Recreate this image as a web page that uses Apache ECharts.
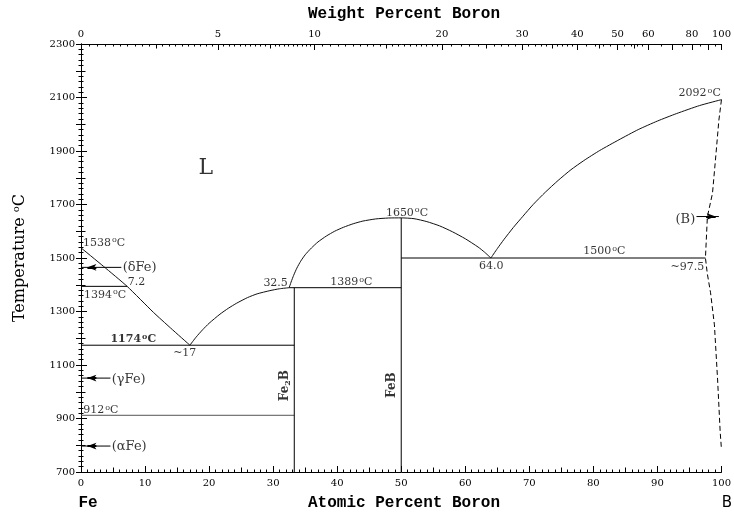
<!DOCTYPE html>
<html><head><meta charset="utf-8">
<script src="https://cdn.jsdelivr.net/npm/echarts@6/dist/echarts.min.js"></script>
<style>html,body{margin:0;padding:0;background:#fff}#c{width:734px;height:515px}</style>
</head><body><div id="c"></div>
<script>
// ---------- data ----------
const atomicTicks = [0,10,20,30,40,50,60,70,80,90,100];
const atomicMid = [5,15,25,35,45,55,65,75,85,95];
const weightMajor = [0,5,10,20,30,40,50,60,70,80,90,100];
const weightLabeled = [0,5,10,20,30,40,50,60,80,100];
const weightMid = [2.5,7.5,15,25,35,45,55];
const tempTicks = [700,900,1100,1300,1500,1700,1900,2100,2300];
const tempMid = [800,1000,1200,1400,1600,1800,2000,2200];

const liquidusFe   = [[0,1538],[3.5,1469],[7.2,1394],[11.3,1297],[14,1238],[17,1174]];
const liquidusFe2B = [[17,1174],[18,1205],[19,1232],[20,1256],[21.7,1290],[23,1312],[24.3,1331],[26,1352],[27.5,1366],[29.5,1378],[31,1385],[32.5,1389]];
const liquidusFeB  = [[32.5,1389],[32.8,1410],[33.2,1435],[33.7,1462],[34.3,1488],[35,1512],[36,1538],[37,1560],[38.3,1582],[39.6,1600],[41,1615],[42.5,1628],[44,1638],[46,1646],[48,1649.5],[50,1650],[52,1647],[54,1636],[56,1620],[58,1598],[60,1572],[62,1541],[63,1522],[64,1500]];
const liquidusB    = [[64,1500],[65,1535],[66,1568],[67.5,1614],[69,1656],[70.6,1700],[72.5,1746],[74.5,1790],[76.5,1830],[78.5,1864],[81,1902],[84,1942],[87,1980],[90,2012],[93,2040],[96.6,2070],[100,2092]];
const solvusB      = [[100,2092],[99.6,2016],[99.06,1866],[98.6,1742],[97.8,1654],[97.5,1500],[97.8,1440],[98.3,1370],[98.9,1250],[99.4,1044],[99.8,850],[100,785]];
const isotherms = [
  {from:0, to:7.2, t:1394, color:'#000'},
  {from:0, to:33.3, t:1174, color:'#000'},
  {from:0, to:33.3, t:912, color:'#555'},
  {from:32.5, to:50, t:1389, color:'#000'},
  {from:50, to:97.5, t:1500, color:'#000'}
];
const compounds = [
  {x:33.3, from:700, to:1389},
  {x:50, from:700, to:1650}
];
const arrows = [ // phase arrows pointing to the pure element axis
  {t:1465, x0:0, x1:6.3, tail:2.4, head:1.0},
  {t:1051, x0:0, x1:4.6, tail:2.4, head:1.0},
  {t:797,  x0:0, x1:4.6, tail:2.4, head:1.0},
  {t:1655, x0:96.1, x1:99.6, tail:97.6, head:99.1}
];
const annotations = [
  {x:0.3,  y:1557, text:'1538{o|o}C', align:'left'},
  {x:6.5,  y:1464, text:'(\u03B4Fe)', align:'left', big:true},
  {x:7.3,  y:1408, text:'7.2', align:'left'},
  {x:0.45, y:1362, text:'1394{o|o}C', align:'left'},
  {x:4.6,  y:1196, text:'{b|1174}{ob|o}{b|C}', align:'left'},
  {x:16.2, y:1146, text:'~17', align:'center'},
  {x:4.8,  y:1047, text:'(\u03B3Fe)', align:'left', big:true},
  {x:0.35, y:932,  text:'912{o|o}C', align:'left'},
  {x:4.8,  y:795,  text:'(\u03B1Fe)', align:'left', big:true},
  {x:32.3, y:1405, text:'32.5', align:'right'},
  {x:42.2, y:1408, text:'1389{o|o}C', align:'center'},
  {x:50.9, y:1669, text:'1650{o|o}C', align:'center'},
  {x:64.05,y:1470, text:'64.0', align:'center'},
  {x:81.7, y:1524, text:'1500{o|o}C', align:'center'},
  {x:97.3, y:1467, text:'~97.5', align:'right'},
  {x:95.9, y:1642, text:'(B)', align:'right', big:true},
  {x:99.9, y:2116, text:'2092{o|o}C', align:'right'},
  {x:19.5, y:1836, text:'L', align:'center', huge:true},
  {x:31.9, y:1023, text:'{bb|Fe}{sb|2}{bb|B}', align:'center', rot:true},
  {x:48.6, y:1025, text:'{bb|FeB}', align:'center', rot:true}
];

// ---------- helpers ----------
function range(a,b,s){const r=[];for(let v=a;v<=b+1e-9;v+=s)r.push(+v.toFixed(4));return r;}
const atFromWt = w => (w/10.81)/((w/10.81)+((100-w)/55.845))*100;
const wtFromAt = a => a*10.81/(a*10.81+(100-a)*55.845)*100;
const weightMinor = [].concat(range(0,10,0.25), range(10,20,0.5), range(20,40,1), range(40,60,2), range(60,100,5));

const SERIF = '"DejaVu Serif", serif';
const MONO = '"Liberation Mono", monospace';
const black = '#000';

function baseAxis(extra){
  return Object.assign({
    type:'value', min:0, max:100,
    axisLine:{show:false, lineStyle:{color:black, width:1}},
    splitLine:{show:false},
    axisLabel:{show:false},
    axisTick:{show:false},
    minorTick:{show:false}
  }, extra);
}
function ticks(values, len){
  return {show:true, inside:true, length:len, customValues:values, lineStyle:{color:black, width:1}};
}

const xAxis = [
  baseAxis({position:'bottom', interval:10,
    axisLine:{show:true, lineStyle:{color:black, width:1}},
    axisTick:{show:true, inside:true, length:6, lineStyle:{color:black}},
    minorTick:{show:true, splitNumber:10, length:2.5, lineStyle:{color:black}},
    axisLabel:{show:true, color:black, fontFamily:SERIF, fontSize:10, margin:6, formatter:v => String(v)}
  }),
  baseAxis({position:'bottom', axisTick:ticks(atomicMid, 4.5)}),
  baseAxis({position:'top',
    axisLine:{show:true, lineStyle:{color:black, width:1}},
    axisTick:ticks(weightMajor.map(atFromWt), 6),
    axisLabel:{show:true, customValues:weightLabeled.map(atFromWt), color:black, fontFamily:SERIF, fontSize:10, margin:5,
      formatter:v => String(Math.round(wtFromAt(v)))}
  }),
  baseAxis({position:'top', axisTick:ticks(weightMid.map(atFromWt), 4.5)}),
  baseAxis({position:'top', axisTick:ticks(weightMinor.map(atFromWt), 2.5)})
];
function yBase(extra){ return baseAxis(Object.assign({min:700, max:2300}, extra)); }
const yAxis = [
  yBase({position:'left',
    axisLine:{show:true, lineStyle:{color:black, width:1}},
    axisTick:ticks(tempTicks, 6),
    axisLabel:{show:true, customValues:tempTicks, color:black, fontFamily:SERIF, fontSize:10, margin:6, formatter:v => String(v)}
  }),
  yBase({position:'left', interval:20, axisTick:{show:true, inside:true, length:2.5, lineStyle:{color:black}}}),
  yBase({position:'left', axisTick:ticks(tempMid, 4.5)}),
  yBase({position:'right', interval:20, axisLine:{show:true, lineStyle:{color:black, width:1}},
    axisTick:{show:true, inside:true, length:2.5, lineStyle:{color:black}}}),
  yBase({position:'right', axisTick:ticks(tempMid.concat(tempTicks), 5)})
];

function lineSeries(data, opts){
  return Object.assign({type:'line', xAxisIndex:0, yAxisIndex:0, data:data, symbol:'none', silent:true,
    lineStyle:{color:'#111', width:1}, z:3}, opts||{});
}
const series = [];
series.push(lineSeries(liquidusFe, {smooth:0.2}));
series.push(lineSeries(liquidusFe2B, {smooth:0.2}));
series.push(lineSeries(liquidusFeB, {smooth:0.2}));
series.push(lineSeries(liquidusB, {smooth:0.2}));
series.push(lineSeries(solvusB, {lineStyle:{color:'#000', width:1, type:[5,3]}}));
isotherms.forEach(h => series.push(lineSeries([[h.from,h.t],[h.to,h.t]], {lineStyle:{color:h.color, width:1}})));
compounds.forEach(c => series.push(lineSeries([[c.x,c.from],[c.x,c.to]], {lineStyle:{color:'#000', width:1}})));
arrows.forEach(a => series.push(lineSeries([[a.x0,a.t],[a.x1,a.t]], {
  lineStyle:{color:'#000', width:1},
  markLine:{silent:true, symbol:['none','arrow'], symbolSize:[5,9], label:{show:false},
    lineStyle:{color:'#000', width:2, type:'solid'},
    data:[[{coord:[a.tail,a.t]},{coord:[a.head,a.t]}]]}
})));

const rich = {
  o:{fontFamily:SERIF, fontSize:8, verticalAlign:'top', lineHeight:13, padding:[0,0,5,1]},
  ob:{fontFamily:SERIF, fontSize:8, fontWeight:'bold', verticalAlign:'top', lineHeight:13, padding:[0,0,5,1]},
  b:{fontFamily:SERIF, fontSize:11, fontWeight:'bold', lineHeight:13},
  bb:{fontFamily:SERIF, fontSize:12, fontWeight:'bold', lineHeight:14},
  sb:{fontFamily:SERIF, fontSize:8, fontWeight:'bold', verticalAlign:'bottom', lineHeight:14, padding:[6,0,0,0]}
};
series.push({
  type:'scatter', xAxisIndex:0, yAxisIndex:0, symbolSize:0, silent:true, z:5,
  data: annotations.map(a => ({
    value:[a.x, a.y],
    label:{show:true, position:'inside', formatter:a.text, rich:rich,
      align:a.align, verticalAlign:'middle', color:'#000',
      fontFamily:SERIF, fontSize: a.huge ? 22 : (a.big ? 13 : 11), lineHeight: a.huge ? 24 : 13,
      rotate: a.rot ? 90 : 0}
  }))
});

const option = {
  animation:false,
  backgroundColor:'#fff',
  grid:{left:81, right:12, top:44, bottom:43, containLabel:false},
  xAxis: xAxis,
  yAxis: yAxis,
  series: series,
  graphic:[
    {type:'text', x:404, y:14, style:{text:'Weight Percent Boron', font:'bold 16px '+MONO, fill:'#000', align:'center', verticalAlign:'middle'}},
    {type:'text', x:404, y:503, style:{text:'Atomic Percent Boron', font:'bold 16px '+MONO, fill:'#000', align:'center', verticalAlign:'middle'}},
    {type:'text', x:88, y:503, style:{text:'Fe', font:'bold 16px '+MONO, fill:'#000', align:'center', verticalAlign:'middle'}},
    {type:'text', x:727, y:503, style:{text:'B', font:'15px "DejaVu Sans", sans-serif', fill:'#000', align:'center', verticalAlign:'middle'}},
    {type:'text', x:20, y:258, rotation:Math.PI/2, style:{text:'Temperature {o|o}C', font:'16px '+SERIF, fill:'#000', align:'center', verticalAlign:'middle',
      rich:{o:{font:'10px '+SERIF, verticalAlign:'top', lineHeight:18, padding:[0,0,7,0]}}}}
  ]
};
const chart = echarts.init(document.getElementById('c'));
chart.setOption(option);
</script>
</body></html>
